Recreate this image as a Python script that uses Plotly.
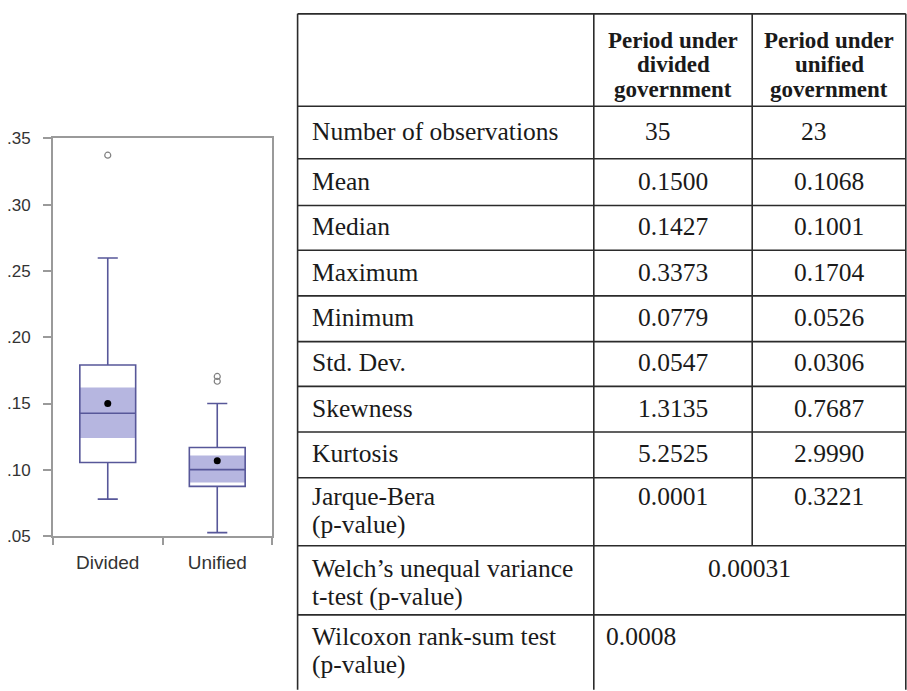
import plotly.graph_objects as go

W, H = 907, 691

# ---- box plot statistics ----
groups = ["Divided", "Unified"]
q1 = [0.1055, 0.0875]
median = [0.1427, 0.1001]
q3 = [0.1790, 0.1168]
lower_whisker = [0.0779, 0.0526]
upper_whisker = [0.2598, 0.1500]
mean = [0.1500, 0.1068]
median_ci_low = [0.1240, 0.0905]
median_ci_high = [0.1620, 0.1108]
outlier_group = ["Divided", "Unified", "Unified"]
outlier_value = [0.3373, 0.1704, 0.1668]
y_tick_values = [0.05, 0.10, 0.15, 0.20, 0.25, 0.30, 0.35]
y_tick_labels = [".05", ".10", ".15", ".20", ".25", ".30", ".35"]

# ---- summary table ----
header_divided = ["Period under", "divided", "government"]
header_unified = ["Period under", "unified", "government"]
row_labels = [
    ["Number of observations"], ["Mean"], ["Median"], ["Maximum"], ["Minimum"],
    ["Std. Dev."], ["Skewness"], ["Kurtosis"], ["Jarque-Bera", "(p-value)"],
]
divided_values = ["35", "0.1500", "0.1427", "0.3373", "0.0779", "0.0547",
                  "1.3135", "5.2525", "0.0001"]
unified_values = ["23", "0.1068", "0.1001", "0.1704", "0.0526", "0.0306",
                  "0.7687", "2.9990", "0.3221"]
welch_label = ["Welch\u2019s unequal variance", "t-test (p-value)"]
welch_value = "0.00031"
wilcoxon_label = ["Wilcoxon rank-sum test", "(p-value)"]
wilcoxon_value = "0.0008"


def fx(px):
    return px / W


def fy(py):
    return 1 - py / H


BOX_LINE = "#575799"
BAND = "rgb(182,182,224)"
AXIS = "#9a9a9a"

fig = go.Figure()

# shaded median confidence band
fig.add_trace(go.Bar(
    x=groups, y=[h - l for h, l in zip(median_ci_high, median_ci_low)],
    base=median_ci_low, width=0.51,
    marker=dict(color=BAND, line=dict(width=0)),
    hoverinfo="skip", showlegend=False,
))
# boxes and whiskers
fig.add_trace(go.Box(
    x=groups, q1=q1, median=median, q3=q3,
    lowerfence=lower_whisker, upperfence=upper_whisker,
    width=0.51, whiskerwidth=0.36,
    fillcolor="rgba(0,0,0,0)", line=dict(color=BOX_LINE, width=1.6),
    showlegend=False,
))
# means
fig.add_trace(go.Scatter(
    x=groups, y=mean, mode="markers",
    marker=dict(color="black", size=7),
    showlegend=False,
))
# outliers
fig.add_trace(go.Scatter(
    x=outlier_group, y=outlier_value, mode="markers",
    marker=dict(symbol="circle-open", color="#808080", size=6,
                line=dict(width=1.2)),
    showlegend=False,
))

fig.update_xaxes(
    domain=[fx(53), fx(272)], range=[-0.5, 1.5],
    showline=True, linecolor=AXIS, linewidth=2, mirror=True,
    ticks="outside", tickson="boundaries", ticklen=7, tickcolor=AXIS,
    tickwidth=1.5, showgrid=False, zeroline=False,
    tickfont=dict(family="Liberation Sans", size=19, color="#333333"),
    ticklabelstandoff=8,
)
fig.update_yaxes(
    domain=[fy(542), fy(133)], range=[0.05, 0.35],
    tickvals=y_tick_values, ticktext=y_tick_labels,
    showline=True, linecolor=AXIS, linewidth=2, mirror=True,
    ticks="outside", ticklen=8, tickcolor=AXIS, tickwidth=1.5,
    showgrid=False, zeroline=False,
    tickfont=dict(family="Liberation Sans", size=17, color="#333333"),
    ticklabelstandoff=9,
)

# ---- table grid ----
T_LEFT, T_DIV1, T_DIV2, T_RIGHT = 297.6, 593.8, 752.2, 905.8
row_edges = [5, 100, 154, 202, 248, 295, 342, 388, 435, 482, 552, 623, 700]
LINE = dict(color="#2b2b2b", width=1.6)
shapes = []
for yb in row_edges[:-1]:
    shapes.append(dict(type="line", xref="paper", yref="paper",
                       x0=fx(T_LEFT), x1=fx(T_RIGHT), y0=fy(yb), y1=fy(yb),
                       line=LINE))
for xv in (T_LEFT, T_DIV1, T_RIGHT):
    shapes.append(dict(type="line", xref="paper", yref="paper",
                       x0=fx(xv), x1=fx(xv), y0=fy(row_edges[0]),
                       y1=fy(row_edges[-1]), line=LINE))
shapes.append(dict(type="line", xref="paper", yref="paper",
                   x0=fx(T_DIV2), x1=fx(T_DIV2), y0=fy(row_edges[0]),
                   y1=fy(row_edges[10]), line=LINE))

SERIF = "Liberation Serif"
TXT = "#1a1a1a"
annotations = []


def put(text, x, y, anchor="center", size=25.5, bold=False):
    if bold:
        text = "<b>" + text + "</b>"
    annotations.append(dict(
        text=text, x=fx(x), y=fy(y), xref="paper", yref="paper",
        xanchor=anchor, yanchor="middle", showarrow=False, borderpad=0,
        font=dict(family=SERIF, size=size, color=TXT),
    ))


COL2_C = (T_DIV1 + T_DIV2) / 2
COL3_C = (T_DIV2 + T_RIGHT) / 2
LABEL_X = 310.5
LINE_GAP = 29.5

for i, (a, b) in enumerate(zip(header_divided, header_unified)):
    put(a, COL2_C, 32 + i * 25.5, size=23, bold=True)
    put(b, COL3_C, 32 + i * 25.5, size=23, bold=True)

for r, lines in enumerate(row_labels):
    top, bot = row_edges[r + 1], row_edges[r + 2]
    if len(lines) == 1:
        yc = (top + bot) / 2 - 1
    else:
        yc = top + 19
    for k, ln in enumerate(lines):
        put(ln, LABEL_X, yc + k * LINE_GAP, anchor="left")
    shift = -15 if r == 0 else 0
    put(divided_values[r], COL2_C + shift, yc)
    put(unified_values[r], COL3_C + shift, yc)

welch_top = row_edges[10]
for k, ln in enumerate(welch_label):
    put(ln, LABEL_X, welch_top + 23 + k * LINE_GAP, anchor="left")
put(welch_value, (T_DIV1 + T_RIGHT) / 2, welch_top + 23)

wil_top = row_edges[11]
for k, ln in enumerate(wilcoxon_label):
    put(ln, LABEL_X, wil_top + 22 + k * LINE_GAP, anchor="left")
put(wilcoxon_value, T_DIV1 + 11, wil_top + 22, anchor="left")

fig.update_layout(
    width=W, height=H, margin=dict(l=0, r=0, t=0, b=0),
    paper_bgcolor="white", plot_bgcolor="white",
    shapes=shapes, annotations=annotations,
    barmode="overlay", showlegend=False,
)

fig.write_html("out.html")
